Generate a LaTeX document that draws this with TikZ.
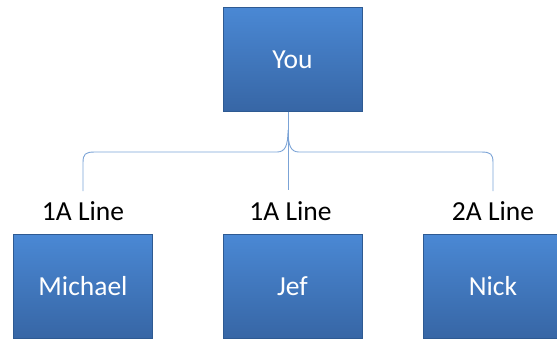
\documentclass[tikz,border=0pt]{standalone}
\usepackage{fontspec}
\setmainfont{Carlito}
\usepackage{xcolor}
\usetikzlibrary{positioning,calc}

\definecolor{boxtop}{HTML}{4A88D4}
\definecolor{boxbot}{HTML}{3766A5}
\definecolor{boxedge}{HTML}{2E5A92}
\definecolor{linkblue}{HTML}{7BA3D6}

\begin{document}
\begin{tikzpicture}[x=1pt, y=1pt, node distance=13pt]
  % Define styles
  \tikzstyle{person} = [rectangle, draw=boxedge, top color=boxtop, bottom color=boxbot, minimum width=139pt, minimum height=104pt, text=white, font=\fontsize{27.5}{32}\selectfont]
  \tikzstyle{linetag} = [font=\fontsize{27.5}{32}\selectfont, inner sep=0pt]
  \tikzstyle{link} = [draw=linkblue, line width=0.9pt]

  \useasboundingbox (0,0) rectangle (557,-341);

  % Boxes
  \node [person] (you) at (292.5,-59.5) {You};
  \node [person] (michael) at (83,-286.5) {Michael};
  \node [person] (jef) at (292.5,-286.5) {Jef};
  \node [person] (nick) at (493,-286.5) {Nick};

  % Line labels
  \node [linetag, above=13pt of michael] (tagA) {1A Line};
  \node [linetag, above=13pt of jef, xshift=-2pt] (tagB) {1A Line};
  \node [linetag, above=13pt of nick] (tagC) {2A Line};

  % Brace ends
  \coordinate (endA) at (83,-191);
  \coordinate (endB) at (288,-190);
  \coordinate (endC) at (493,-191);

  % Brace and stem
  \draw [link] (endA) -- (83,-163) .. controls (83,-154) and (85,-152) .. (95,-152)
    -- (277,-152) .. controls (285,-152) and (288,-146) .. (288,-130)
    .. controls (288,-146) and (291,-152) .. (299,-152)
    -- (481,-152) .. controls (491,-152) and (493,-154) .. (493,-163) -- (endC);
  \draw [link] (you.south -| endB) -- (endB);
\end{tikzpicture}
\end{document}
